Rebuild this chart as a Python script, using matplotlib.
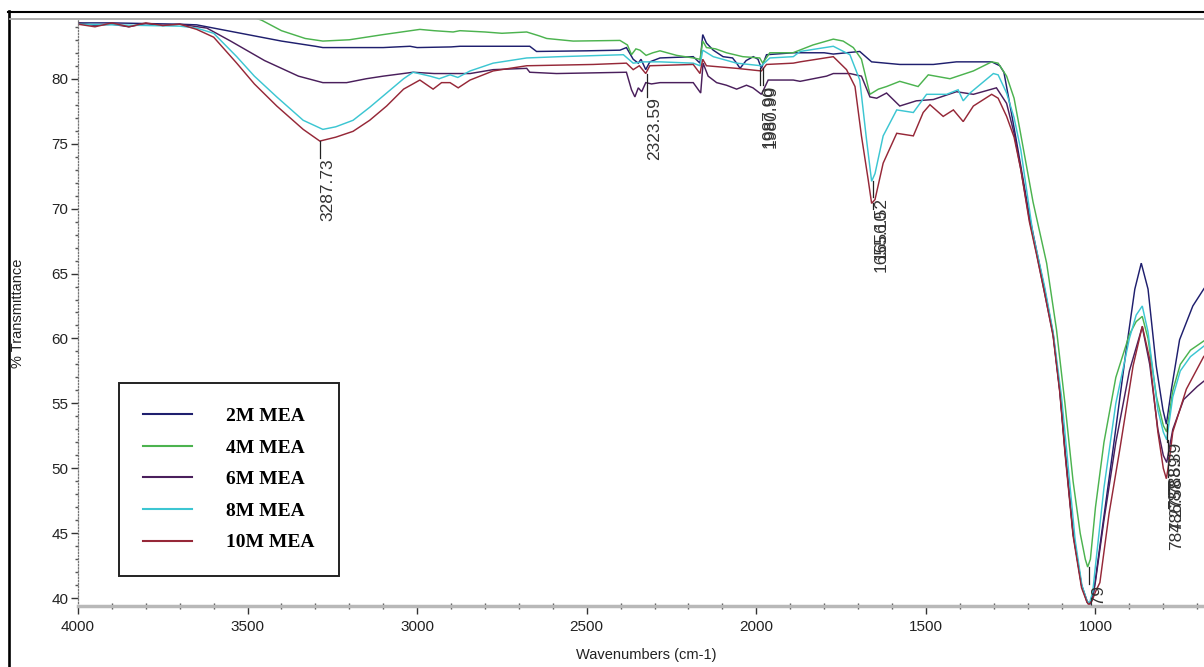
import matplotlib
matplotlib.use("Agg")
import matplotlib.pyplot as plt
from matplotlib.lines import Line2D
from matplotlib.ticker import MultipleLocator
import matplotlib.transforms as mtransforms

plt.rcParams['font.family'] = ['Liberation Sans Narrow', 'Liberation Sans', 'DejaVu Sans']

# ---------------- data ----------------
series_names = ["2M MEA", "4M MEA", "6M MEA", "8M MEA", "10M MEA"]
series_colors = ["#1f1f6e", "#4cb34f", "#4a1f5c", "#3cc6d2", "#962838"]

wn_2m = [4000, 3900, 3800, 3700, 3650, 3600, 3500, 3400, 3300, 3278, 3200, 3100, 3021, 3000, 2900,
         2874, 2800, 2700, 2668, 2648, 2500, 2402, 2383, 2363, 2348, 2340, 2326, 2314, 2284, 2186,
         2166, 2158, 2147, 2127, 2098, 2070, 2058, 2048, 2030, 2009, 1995, 1985, 1970, 1891, 1800,
         1773, 1695, 1660, 1577, 1478, 1410, 1306, 1282, 1270, 1253, 1235, 1215, 1195, 1174, 1150,
         1125, 1105, 1090, 1066, 1041, 1025, 1017, 1005, 987, 948, 909, 884, 865, 845, 821, 801,
         791, 776, 752, 713, 681, 670]
t_2m = [84.3, 84.3, 84.25, 84.2, 84.15, 83.9, 83.4, 82.9, 82.5, 82.4, 82.4, 82.4, 82.5, 82.4, 82.45,
        82.5, 82.5, 82.5, 82.5, 82.1, 82.15, 82.2, 82.4, 81.5, 81.2, 81.5, 80.7, 81.3, 81.6, 81.7,
        81.2, 83.4, 82.75, 82.2, 81.7, 81.6, 81.2, 80.8, 81.4, 81.7, 81.5, 80.8, 81.85, 82.0, 82.0,
        81.9, 82.1, 81.3, 81.1, 81.1, 81.3, 81.3, 81.0, 80.5, 78.1, 75.5, 72.5, 69.5, 66.8, 63.8,
        60.4, 56.0, 51.5, 45.0, 41.0, 39.8, 39.5, 40.5, 44.0, 51.5, 59.2, 63.8, 65.8, 63.8, 57.9, 54.5,
        53.4, 56.1, 59.9, 62.5, 63.8, 64.2]

wn_4m = [4000, 3800, 3600, 3500, 3458, 3400, 3330, 3278, 3200, 3100, 2992, 2950, 2894, 2874, 2800,
         2750, 2677, 2640, 2618, 2540, 2402, 2380, 2368, 2355, 2343, 2325, 2305, 2284, 2235, 2186,
         2166, 2158, 2147, 2120, 2088, 2040, 1990, 1981, 1960, 1892, 1833, 1773, 1744, 1714, 1690,
         1665, 1640, 1616, 1577, 1523, 1493, 1429, 1360, 1306, 1287, 1262, 1240, 1223, 1184, 1144,
         1115, 1090, 1066, 1045, 1030, 1023, 1015, 1000, 975, 940, 900, 880, 862, 845, 820, 800,
         790, 772, 750, 720, 681, 670]
t_4m = [86.5, 85.8, 85.2, 84.9, 84.5, 83.7, 83.1, 82.9, 83.0, 83.4, 83.8, 83.7, 83.6, 83.7, 83.6,
        83.5, 83.6, 83.3, 83.1, 82.9, 82.95, 82.6, 81.85, 82.3, 82.2, 81.8, 82.0, 82.15, 81.8, 81.6,
        81.5, 82.9, 82.4, 82.3, 82.0, 81.7, 81.6, 81.2, 82.0, 82.0, 82.6, 83.05, 82.9, 82.4, 81.5,
        78.8, 79.2, 79.4, 79.8, 79.4, 80.3, 80.0, 80.6, 81.3, 81.2, 80.2, 78.5, 76.1, 70.5, 65.8,
        60.7, 55.0, 49.0, 45.0, 43.0, 42.4, 43.0, 47.0, 52.0, 57.0, 60.3, 61.3, 61.7, 60.0, 55.5, 53.3,
        52.8, 56.0, 58.0, 59.1, 59.8, 60.0]

wn_6m = [4000, 3950, 3900, 3850, 3800, 3750, 3700, 3620, 3550, 3450, 3350, 3278, 3208, 3150, 3100,
         3012, 2950, 2844, 2776, 2677, 2668, 2589, 2383, 2368, 2358, 2348, 2338, 2326, 2309, 2284,
         2186, 2164, 2157, 2142, 2117, 2088, 2058, 2029, 2010, 1985, 1965, 1891, 1871, 1793, 1773,
         1724, 1690, 1665, 1645, 1616, 1577, 1528, 1478, 1410, 1360, 1292, 1262, 1240, 1220, 1195,
         1174, 1150, 1125, 1105, 1090, 1066, 1041, 1025, 1018, 1010, 1000, 975, 940, 900, 862, 840,
         816, 800, 790, 772, 740, 700, 681, 670]
t_6m = [84.3, 84.1, 84.2, 84.0, 84.25, 84.1, 84.2, 83.9, 82.9, 81.4, 80.2, 79.7, 79.7, 80.0, 80.2,
        80.5, 80.4, 80.4, 80.7, 80.8, 80.5, 80.4, 80.5, 79.15, 78.6, 79.3, 79.0, 79.7, 79.6, 79.7,
        79.7, 78.9, 81.2, 80.2, 79.7, 79.5, 79.2, 79.5, 79.3, 78.8, 79.9, 79.9, 79.8, 80.2, 80.4,
        80.4, 80.2, 78.6, 78.5, 78.9, 77.9, 78.3, 78.4, 79.0, 78.8, 79.3, 78.1, 75.8, 73.0, 69.2,
        66.6, 63.5, 60.3, 55.9, 51.4, 45.0, 41.0, 39.7, 39.5, 39.9, 41.3, 46.0, 52.0, 57.5, 60.9, 58.0,
        53.0, 51.0, 50.45, 53.0, 55.3, 56.3, 56.7, 56.9]

wn_8m = [4000, 3900, 3800, 3700, 3650, 3600, 3532, 3480, 3414, 3336, 3278, 3240, 3189, 3140, 3090,
         3040, 3012, 2962, 2935, 2903, 2880, 2844, 2776, 2677, 2579, 2392, 2363, 2333, 2284, 2186,
         2166, 2158, 2127, 2058, 1985, 1960, 1891, 1871, 1773, 1724, 1695, 1675, 1660, 1650, 1626,
         1586, 1537, 1498, 1439, 1405, 1390, 1370, 1301, 1287, 1262, 1240, 1220, 1184, 1150, 1125,
         1100, 1080, 1060, 1040, 1025, 1018, 1008, 1000, 975, 940, 900, 880, 862, 845, 816, 800,
         790, 772, 750, 720, 681, 670]
t_8m = [84.2, 84.15, 84.1, 84.05, 83.9, 83.5, 81.7, 80.2, 78.6, 76.8, 76.1, 76.3, 76.8, 77.8, 78.9,
        80.0, 80.5, 80.2, 80.0, 80.3, 80.1, 80.6, 81.2, 81.6, 81.7, 81.85, 81.2, 81.3, 81.3, 81.2,
        81.0, 82.2, 81.7, 81.2, 81.0, 81.6, 81.7, 82.1, 82.5, 81.85, 79.9, 75.3, 72.1, 72.7, 75.6,
        77.6, 77.4, 78.8, 78.8, 79.15, 78.3, 78.9, 80.4, 80.3, 78.9, 77.0, 74.5, 68.0, 64.0, 60.5,
        55.5, 50.0, 44.5, 41.0, 39.8, 39.6, 40.5, 42.5, 48.5, 55.0, 60.0, 61.8, 62.5, 60.5, 54.5, 52.8,
        52.2, 55.5, 57.5, 58.6, 59.4, 59.6]

wn_10m = [4000, 3950, 3900, 3850, 3800, 3750, 3700, 3650, 3600, 3532, 3480, 3414, 3336, 3287, 3240,
          3189, 3140, 3090, 3040, 2992, 2953, 2928, 2903, 2879, 2844, 2776, 2727, 2677, 2481, 2383,
          2363, 2345, 2326, 2314, 2186, 2166, 2158, 2147, 2058, 1985, 1970, 1891, 1871, 1773, 1734,
          1709, 1690, 1670, 1660, 1650, 1626, 1586, 1537, 1508, 1488, 1449, 1419, 1390, 1360, 1306,
          1287, 1262, 1240, 1220, 1195, 1174, 1150, 1125, 1105, 1090, 1066, 1041, 1025, 1020, 1010,
          1000, 987, 960, 928, 889, 862, 840, 816, 800, 791, 783, 772, 732, 681, 670]
t_10m = [84.2, 84.0, 84.3, 84.0, 84.3, 84.1, 84.2, 83.8, 83.2, 81.2, 79.6, 77.9, 76.1, 75.2, 75.5,
         75.95, 76.8, 77.9, 79.2, 79.9, 79.2, 79.7, 79.7, 79.3, 79.9, 80.6, 80.8, 81.0, 81.1, 81.2,
         80.7, 81.0, 80.4, 81.0, 81.1, 80.4, 81.5, 81.0, 80.8, 80.6, 81.1, 81.2, 81.3, 81.7, 80.7,
         79.4, 75.6, 72.2, 70.4, 70.7, 73.5, 75.8, 75.6, 77.4, 78.0, 77.1, 77.6, 76.7, 77.9, 78.8,
         78.5, 77.1, 75.5, 73.0, 69.0, 66.5, 63.5, 60.2, 55.8, 51.2, 44.8, 40.8, 39.7, 39.5, 39.8,
         40.5, 41.2, 46.5, 51.5, 57.9, 60.95, 58.4, 52.8, 50.0, 49.2, 50.5, 52.8, 56.1, 58.6, 58.9]

series_wn = [wn_2m, wn_4m, wn_6m, wn_8m, wn_10m]
series_t = [t_2m, t_4m, t_6m, t_8m, t_10m]

# peak labels: label text, wavenumber, curve value at the peak, top of label
peak_labels = ["3287.73", "2323.59", "1987.90", "1980.99", "1656.52", "1655.10",
               "784.27", "786.58", "787.59", "788.39", "1017.79"]
peak_wn = [3287.73, 2323.59, 1987.90, 1980.99, 1656.52, 1655.10,
           784.27, 786.58, 787.59, 788.39, 1017.79]
peak_t = [75.2, 80.4, 80.8, 80.8, 72.1, 70.4, 49.2, 50.45, 52.2, 53.4, 42.4]
peak_top = [73.9, 78.6, 79.5, 79.5, 70.9, 70.0, 47.8, 49.3, 51.0, 52.0, 41.1]

x_ticks = [4000, 3500, 3000, 2500, 2000, 1500, 1000]
y_ticks = [40, 45, 50, 55, 60, 65, 70, 75, 80]

# ---------------- figure ----------------
W, H = 1204, 667
fig = plt.figure(figsize=(W / 100, H / 100), dpi=100)
ax_left, ax_right, ax_top, ax_bot = 78, 1204, 19, 606
ax = fig.add_axes([ax_left / W, 1 - ax_bot / H, (ax_right - ax_left) / W, (ax_bot - ax_top) / H])

lines = []
for wn, t, c, name in zip(series_wn, series_t, series_colors, series_names):
    ln, = ax.plot(wn, t, color=c, lw=1.05, label=name, solid_joinstyle='miter')
    lines.append(ln)

ax.set_xlim(4000, 680)
ax.set_ylim(39.4, 84.6)

ax.set_xticks(x_ticks)
ax.set_yticks(y_ticks)
ax.xaxis.set_minor_locator(MultipleLocator(100))
ax.yaxis.set_minor_locator(MultipleLocator(1))
ax.tick_params(axis='both', which='major', labelsize=11, colors='#333333', labelcolor='#222222')
ax.tick_params(axis='x', which='major', direction='out', length=6, width=1.0, pad=4)
ax.tick_params(axis='x', which='minor', direction='inout', length=4, width=1.0, color='#555555')
ax.tick_params(axis='y', which='major', direction='out', length=5, width=1.0, pad=2)
ax.tick_params(axis='y', which='minor', direction='out', length=2.5, width=1.0, color='#555555')

for s in ('top', 'right'):
    ax.spines[s].set_visible(False)
ax.spines['bottom'].set_color('#b8b8b8')
ax.spines['bottom'].set_linewidth(2.5)
ax.spines['left'].set_color('#777777')
ax.spines['left'].set_linewidth(0.9)
ax.spines['left'].set_linestyle((0, (1, 1.5)))

# peak annotations (overlapping labels as in the instrument printout)
for lab, w, tv, top in zip(peak_labels, peak_wn, peak_t, peak_top):
    ax.plot([w, w], [tv, top], color='#222222', lw=0.9, clip_on=True)
    tr = mtransforms.offset_copy(ax.transData, fig=fig, x=6, y=0, units='points')
    ax.text(w, top, lab, transform=tr, rotation=90, ha='center', va='top',
            fontsize=12.5, color='#333333', family=['Liberation Sans', 'DejaVu Sans'],
            clip_on=True)

# legend
leg = ax.legend(handles=lines, labels=series_names, loc='upper left',
                bbox_to_anchor=((119 - ax_left) / (ax_right - ax_left), (ax_bot - 383) / (ax_bot - ax_top)),
                borderaxespad=0, frameon=True, fancybox=False, framealpha=1,
                edgecolor='#222222', borderpad=1.25, labelspacing=0.72,
                handlelength=2.5, handletextpad=1.75,
                prop={'family': ['Liberation Serif', 'DejaVu Serif'], 'weight': 'bold', 'size': 14})
leg.get_frame().set_linewidth(1.4)
for h in leg.legend_handles:
    h.set_linewidth(1.5)

# axis titles
fig.text(18 / W, 1 - 313 / H, "% Transmittance", rotation=90, ha='center', va='center',
         fontsize=10.5, color='#222222', family=['Liberation Sans', 'DejaVu Sans'])
fig.text(646 / W, 1 - 655 / H, "Wavenumbers (cm-1)", ha='center', va='center',
         fontsize=10.5, color='#222222')

# outer frame lines
fig.add_artist(Line2D([8.5 / W, 8.5 / W], [0, 1 - 11 / H], transform=fig.transFigure,
                      color='black', lw=1.9))
fig.add_artist(Line2D([7.5 / W, 1], [1 - 12 / H, 1 - 12 / H], transform=fig.transFigure,
                      color='black', lw=1.5))
fig.add_artist(Line2D([10 / W, 1], [1 - 19 / H, 1 - 19 / H], transform=fig.transFigure,
                      color='#a8a8a8', lw=1.3))

fig.savefig("out.png", dpi=100)
